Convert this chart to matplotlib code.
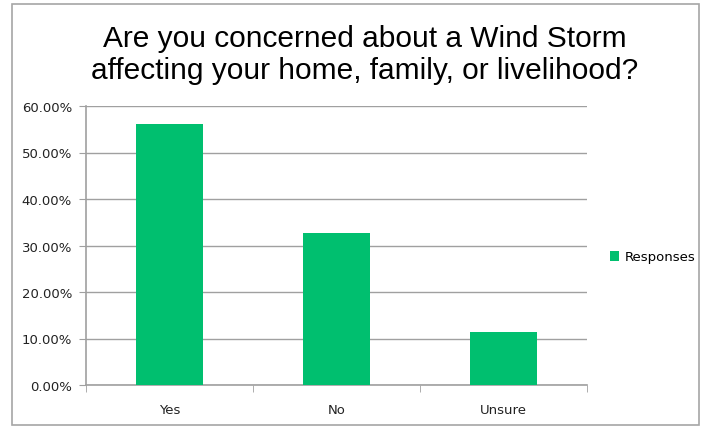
import matplotlib.pyplot as plt
from matplotlib.patches import Rectangle
from matplotlib.ticker import FuncFormatter

categories = ["Yes", "No", "Unsure"]
responses = [56.1, 32.6, 11.3]
series_name = "Responses"
title = "Are you concerned about a Wind Storm\naffecting your home, family, or livelihood?"

W, H = 701, 427
fig = plt.figure(figsize=(W / 100, H / 100), dpi=100)

# light grey frame round the chart
fig.patches.append(Rectangle((12 / W, 1 / H), 687 / W, (H - 6) / H,
                             transform=fig.transFigure, fill=False,
                             edgecolor="#a6a6a6", linewidth=1.2))

ax = fig.add_axes([86 / W, (H - 386) / H, (587 - 86) / W, (386 - 107) / H])

x = range(len(categories))
ax.bar(x, responses, width=0.4, color="#00bf6f", label=series_name, zorder=3)

ax.set_xlim(-0.5, len(categories) - 0.5)
ax.set_ylim(0, 60)
ax.set_yticks(range(0, 61, 10))
ax.yaxis.set_major_formatter(FuncFormatter(lambda v, p: f"{v:.2f}%"))
ax.set_xticks(list(x))
ax.set_xticklabels(categories)
ax.set_xticks([-0.5, 0.5, 1.5, 2.5], minor=True)
ax.tick_params(axis="x", which="major", length=0, pad=13)
ax.tick_params(axis="x", which="minor", length=5, color="#a0a0a0", direction="out")
ax.tick_params(axis="y", length=5, color="#a0a0a0", direction="out", pad=5)
ax.tick_params(labelsize=9.5, labelcolor="#222222")

ax.grid(axis="y", color="#a0a0a0", linewidth=1, zorder=0)
for side in ["top", "right"]:
    ax.spines[side].set_visible(False)
for side in ["left", "bottom"]:
    ax.spines[side].set_color("#a0a0a0")
    ax.spines[side].set_linewidth(1.2)

fig.text(365 / W, 1 - 55 / H, title, ha="center", va="center",
         fontsize=21.5, family="Liberation Sans", linespacing=1.15)

ax.legend(loc="center left", bbox_to_anchor=(610 / W, (H - 258) / H),
          bbox_transform=fig.transFigure, frameon=False, fontsize=9.5,
          handlelength=0.7, handleheight=0.7, handletextpad=0.4,
          borderaxespad=0, borderpad=0)

fig.savefig("out.png", dpi=100)
